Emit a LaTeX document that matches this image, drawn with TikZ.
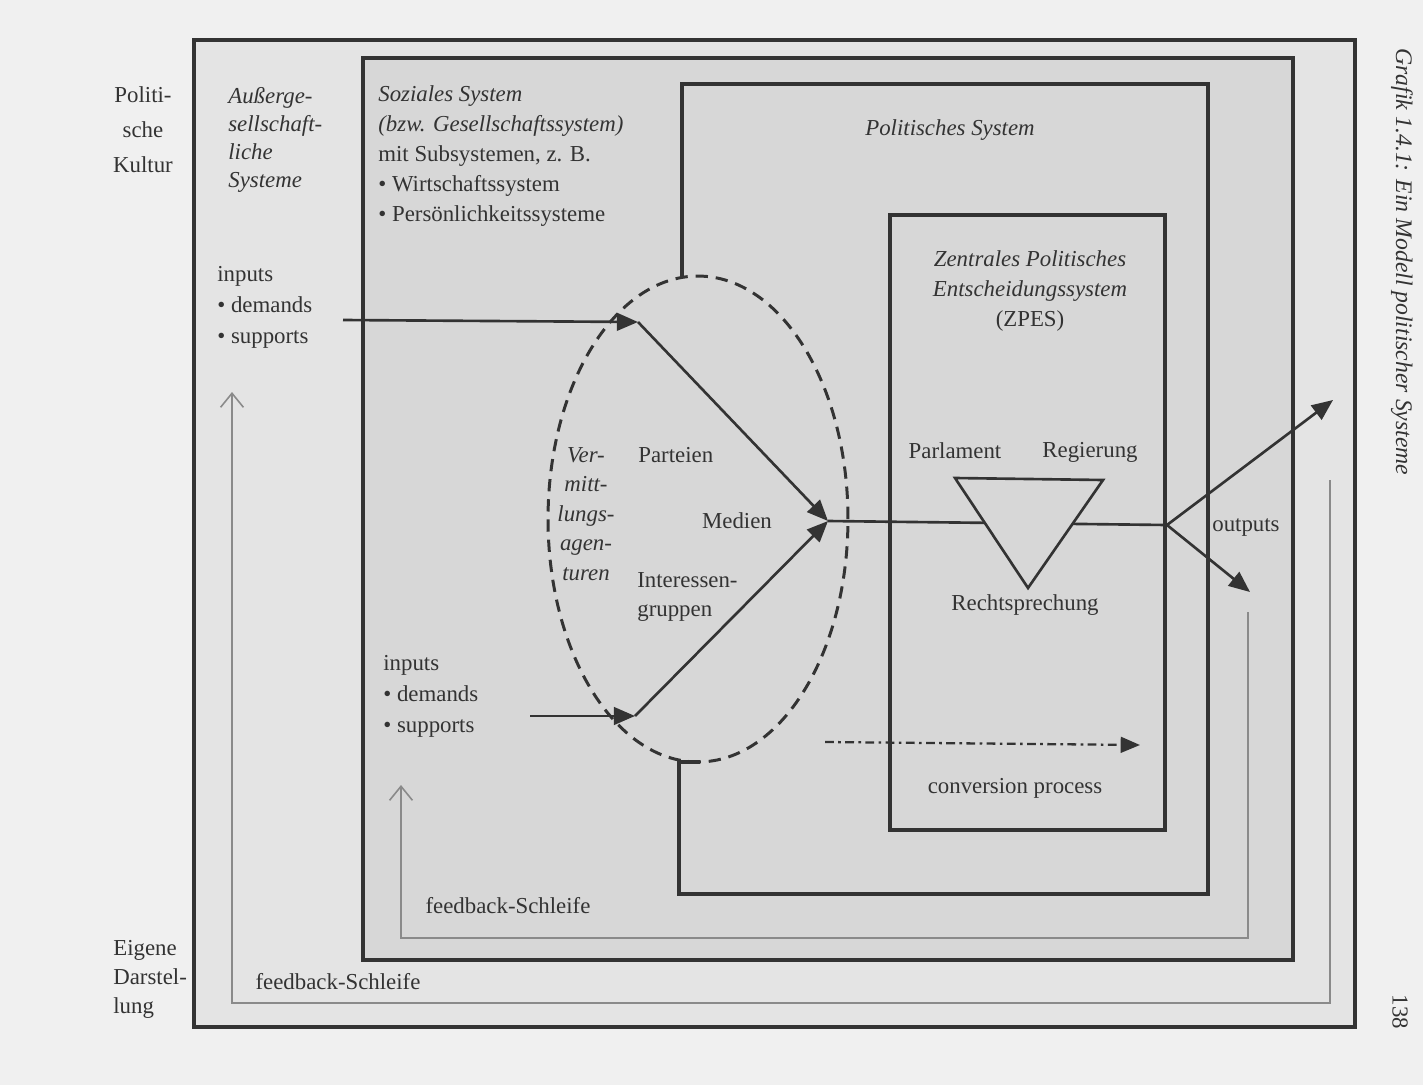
\documentclass[tikz,border=0pt]{standalone}
\usepackage{fontspec}
\setmainfont{Liberation Serif}
\usepackage{tikz}
\usetikzlibrary{arrows.meta}
\definecolor{ink}{HTML}{333333}
\definecolor{paper}{HTML}{F0F0F0}
\definecolor{shade}{HTML}{E4E4E4}
\definecolor{speck}{HTML}{D7D7D7}
\definecolor{loopgray}{HTML}{8A8A8A}

\begin{document}
\begin{tikzpicture}[x=0.02cm, y=-0.02cm,
  every node/.style={font=\fontsize{13}{17}\selectfont, inner sep=0pt, text=ink},
  frame/.style={draw=ink, line width=1.8pt},
  flow/.style={draw=ink, line width=1.5pt, -{Triangle[length=12pt, width=10pt]}},
  back/.style={draw=loopgray, line width=0.9pt, -{Straight Barb[length=8pt, width=13pt]}},
  lefttext/.style={align=left, anchor=west}]
\useasboundingbox (0,0) rectangle (1423,1085);
\fill[paper] (0,0) rectangle (1423,1085);
\coordinate (a) at (194,40);
\coordinate (b) at (1355,1027);
\coordinate (c) at (363,58);
\coordinate (d) at (1293,960);
\filldraw[frame, fill=shade] (a) rectangle (b);
\filldraw[frame, fill=speck] (c) rectangle (d);
\draw[frame] (682,277) -- (682,84) -- (1208,84) -- (1208,894) -- (679,894) -- (679,762) -- (700,762);
\draw[frame] (890,215) rectangle (1165,830);
\draw[ink, line width=1.7pt, dash pattern=on 7pt off 4.5pt] (698,519) ellipse [x radius=3cm, y radius=4.86cm];
\coordinate (in1) at (343,320);
\coordinate (e1) at (638,322);
\coordinate (in2) at (530,716);
\coordinate (e2) at (635,716);
\coordinate (m) at (828,521);
\coordinate (o) at (1167,525);
\coordinate (out1) at (1333,400);
\coordinate (out2) at (1250,592);
\coordinate (p) at (955,478);
\coordinate (r) at (1103,480);
\coordinate (j) at (1028,588);
\draw[flow] (in1) -- (e1);
\draw[flow] (e1) -- (m);
\draw[flow] (in2) -- (e2);
\draw[flow] (e2) -- (m);
\draw[ink, line width=1.5pt] (m) -- (o);
\filldraw[ink, line width=1.5pt, fill=speck] (p) -- (r) -- (j) -- cycle;
\draw[flow] (o) -- (out1);
\draw[flow] (o) -- (out2);
\coordinate (cv1) at (825,742);
\coordinate (cv2) at (1140,745);
\draw[ink, line width=1.3pt, dash pattern=on 5pt off 2.5pt on 1.5pt off 2.5pt, -{Triangle[length=11pt, width=9pt]}] (cv1) -- (cv2);
\coordinate (fa) at (1330,480);
\coordinate (fb) at (232,392);
\coordinate (fc) at (1248,612);
\coordinate (fd) at (401,785);
\draw[back] (fa) |- (232,1003) -- (fb);
\draw[back] (fc) |- (401,938) -- (fd);
\node[align=center, font=\fontsize{13}{20}\selectfont] (kultur) at (143,130) {Politi-\\sche\\Kultur};
\node[lefttext, font=\fontsize{13}{16.5}\selectfont] (darst) at (113,979) {Eigene\\Darstel-\\lung};
\node[lefttext, font=\itshape\fontsize{13}{16}\selectfont] (ausser) at (228,140) {Außerge-\\sellschaft-\\liche\\Systeme};
\node[lefttext] (sozial) at (378,156) {\textit{Soziales System}\\\textit{(bzw. Gesellschaftssystem)}\\mit Subsystemen, z. B.\\\textbullet\ Wirtschaftssystem\\\textbullet\ Persönlichkeitssysteme};
\node[font=\itshape\fontsize{13}{17}\selectfont] (polsys) at (950,130) {Politisches System};
\node[align=center] (zpes) at (1030,291) {\textit{Zentrales Politisches}\\\textit{Entscheidungssystem}\\(ZPES)};
\node (parl) at (955,451) {Parlament};
\node (reg) at (1090,452) {Regierung};
\node (recht) at (1025,605) {Rechtsprechung};
\node[lefttext, font=\fontsize{13}{17.6}\selectfont] (inp1) at (217,307) {inputs\\\textbullet\ demands\\\textbullet\ supports};
\node[lefttext, font=\fontsize{13}{17.6}\selectfont] (inp2) at (383,696) {inputs\\\textbullet\ demands\\\textbullet\ supports};
\node[align=center, font=\itshape\fontsize{13}{16.8}\selectfont] (verm) at (586,514) {Ver-\\mitt-\\lungs-\\agen-\\turen};
\node[lefttext] (part) at (638,455) {Parteien};
\node (med) at (737,521) {Medien};
\node[lefttext] (int) at (637,597) {Interessen-\\gruppen};
\node[lefttext] (outp) at (1212,527) {outputs};
\node (conv) at (1015,788) {conversion process};
\node (fb1) at (508,906) {feedback-Schleife};
\node (fb2) at (338,982) {feedback-Schleife};
\node[rotate=-90, font=\itshape\fontsize{13.5}{16}\selectfont] (grafik) at (1402,262) {Grafik 1.4.1: Ein Modell politischer Systeme};
\node[rotate=-90] (seite) at (1400,1012) {138};
\end{tikzpicture}
\end{document}
